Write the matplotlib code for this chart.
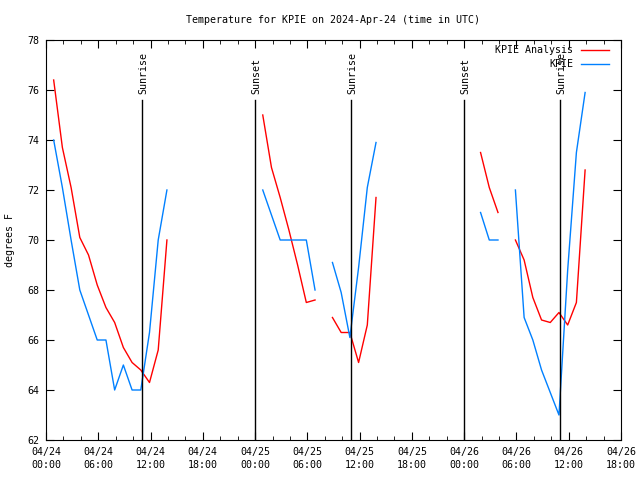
import numpy as np
import matplotlib
matplotlib.use("Agg")
import matplotlib.pyplot as plt

# hours since 2024-04-24 00:00 UTC (obs at :53 past the hour)
hours = [0.88 + k for k in range(62)]

nan = np.nan
# KPIE Analysis (red)
analysis = [
    76.4, 73.7, 72.1, 70.1, 69.4, 68.2, 67.3, 66.7, 65.7, 65.1, 64.8, 64.3, 65.6, 70.0,
    nan, nan, nan, nan, nan, nan, nan, nan, nan, nan,
    75.0, 72.9, 71.7, 70.4, 69.0, 67.5, 67.6, nan, 66.9, 66.3, 66.3, 65.1, 66.6, 71.7,
    nan, nan, nan, nan, nan, nan, nan, nan, nan, nan, nan,
    73.5, 72.1, 71.1, nan, 70.0, 69.2, 67.7, 66.8, 66.7, 67.1, 66.6, 67.5, 72.8,
]
# KPIE observations (blue)
observed = [
    74.0, 72.1, 70.0, 68.0, 67.0, 66.0, 66.0, 64.0, 65.0, 64.0, 64.0, 66.3, 70.0, 72.0,
    nan, nan, nan, nan, nan, nan, nan, nan, nan, nan,
    72.0, 71.0, 70.0, 70.0, 70.0, 70.0, 68.0, nan, 69.1, 67.9, 66.1, 68.9, 72.1, 73.9,
    nan, nan, nan, nan, nan, nan, nan, nan, nan, nan, nan,
    71.1, 70.0, 70.0, nan, 72.0, 66.9, 66.0, 64.8, 63.9, 63.0, 68.8, 73.5, 75.9,
]

sun_hours = [11, 24, 35, 48, 59]
sun_labels = ["Sunrise", "Sunset", "Sunrise", "Sunset", "Sunrise"]

tick_hours = list(range(0, 67, 6))
tick_labels = ["04/24\n00:00", "04/24\n06:00", "04/24\n12:00", "04/24\n18:00",
               "04/25\n00:00", "04/25\n06:00", "04/25\n12:00", "04/25\n18:00",
               "04/26\n00:00", "04/26\n06:00", "04/26\n12:00", "04/26\n18:00"]

plt.rcParams['font.family'] = ['DejaVu Sans Mono']
plt.rcParams['font.size'] = 7.2

fig = plt.figure(figsize=(6.4, 4.8), dpi=100)
ax = fig.add_axes([46 / 640, 40 / 480, 575 / 640, 400 / 480])

ax.plot(hours, analysis, color="#ff0000", lw=1, label="KPIE Analysis")
ax.plot(hours, observed, color="#0080ff", lw=1, label="KPIE")

for h, lab in zip(sun_hours, sun_labels):
    ax.plot([h, h], [62, 75.6], color="black", lw=1)
    ax.text(h + 0.15, 75.85, lab, rotation=90, ha="center", va="bottom")

ax.set_xlim(0, 66)
ax.set_ylim(62, 78)
ax.set_xticks(tick_hours)
ax.set_xticklabels(tick_labels, linespacing=1.35)
ax.set_xticks(range(0, 67, 2), minor=True)
ax.set_yticks(range(62, 79, 2))
ax.tick_params(which="both", direction="in", top=True, right=True, pad=5)
ax.tick_params(which="major", length=6)
ax.tick_params(which="minor", length=3)
ax.set_ylabel("degrees F", labelpad=9)
ax.set_title("Temperature for KPIE on 2024-Apr-24 (time in UTC)",
             fontsize=7.2, pad=12)

leg = ax.legend(loc="upper right", frameon=False, markerfirst=False,
                handlelength=2.8, borderaxespad=0.15, labelspacing=0.4,
                handletextpad=0.8, bbox_to_anchor=(0.989, 1.0))
for t in leg.get_texts():
    t.set_ha("right")

fig.savefig("out.png", dpi=100)
